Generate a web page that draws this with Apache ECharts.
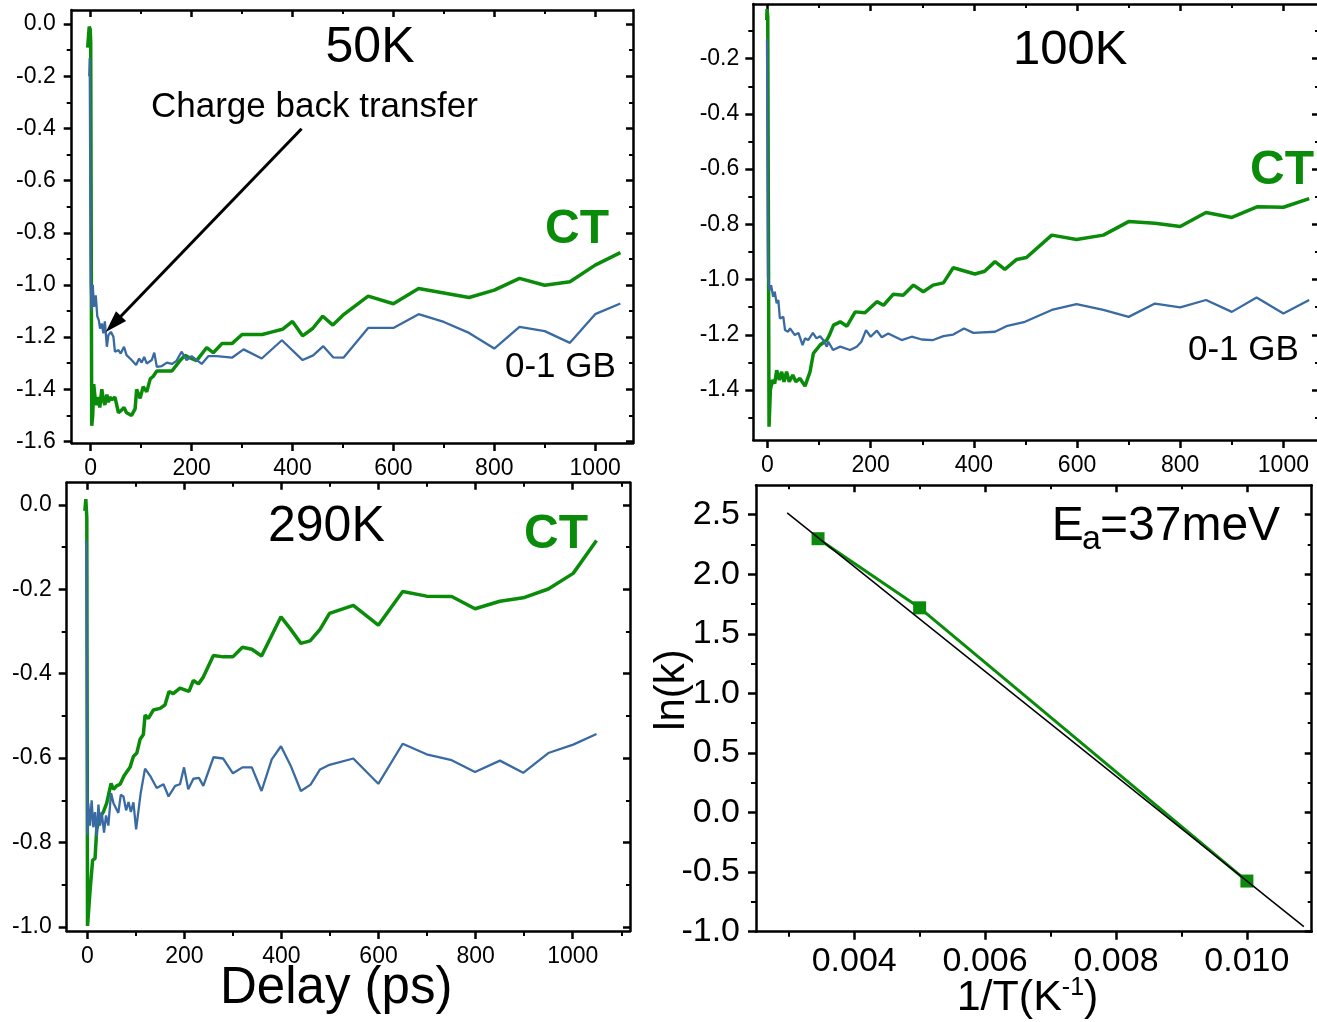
<!DOCTYPE html>
<html>
<head>
<meta charset="utf-8">
<script src="https://cdn.jsdelivr.net/npm/echarts@6/dist/echarts.min.js"></script>
<style>html,body{margin:0;padding:0;background:#fff;overflow:hidden}#c{width:1317px;height:1022px}</style>
</head>
<body>
<div id="c"></div>
<script>
// ---------------- data ----------------
const ct50K = [[-6,-0.09],[-3,-0.01],[-1,-0.02],[0,-0.07],[2,-1.54],[4,-1.50],[6,-1.38],[9,-1.44],[12,-1.46],[15,-1.43],[18,-1.47],[22,-1.40],[25,-1.44],[28,-1.46],[32,-1.42],[35,-1.45],[38,-1.43],[42,-1.44],[48,-1.43],[55,-1.49],[61,-1.48],[66,-1.47],[71,-1.49],[81,-1.50],[88,-1.475],[91,-1.40],[98,-1.435],[104,-1.39],[111,-1.41],[118,-1.36],[124,-1.35],[131,-1.33],[161,-1.33],[177,-1.29],[187,-1.27],[197,-1.28],[210,-1.29],[230,-1.24],[243,-1.26],[260,-1.225],[280,-1.225],[300,-1.19],[340,-1.19],[360,-1.18],[380,-1.17],[400,-1.14],[420,-1.195],[440,-1.167],[460,-1.12],[480,-1.154],[500,-1.116],[550,-1.043],[600,-1.072],[650,-1.014],[750,-1.048],[800,-1.02],[850,-0.975],[900,-1.001],[950,-0.988],[1000,-0.924],[1050,-0.876]];
const gb50K = [[-3,-0.2],[-2,-0.13],[0,-1.0],[2,-1.097],[4,-1.0],[6.6,-1.084],[10,-1.04],[13,-1.12],[16,-1.135],[18.5,-1.167],[22,-1.148],[25,-1.186],[28,-1.14],[32,-1.237],[35,-1.193],[40,-1.18],[45,-1.199],[48,-1.256],[55,-1.25],[59.5,-1.263],[66,-1.237],[71,-1.269],[81,-1.288],[90,-1.307],[96,-1.282],[101,-1.298],[106,-1.276],[111,-1.301],[121,-1.288],[126,-1.26],[131,-1.314],[141,-1.311],[151,-1.298],[161,-1.303],[170,-1.291],[180,-1.256],[190,-1.288],[200,-1.273],[220,-1.303],[233,-1.273],[250,-1.273],[280,-1.279],[303,-1.247],[339,-1.282],[379,-1.212],[420,-1.288],[441,-1.27],[461,-1.235],[481,-1.278],[501,-1.279],[550,-1.165],[600,-1.165],[650,-1.112],[700,-1.142],[750,-1.184],[800,-1.244],[850,-1.161],[900,-1.177],[950,-1.222],[1000,-1.112],[1050,-1.071]];
const ct100K = [[-1.5,-0.06],[-0.8,-0.02],[0.5,-0.05],[3,-1.533],[5.6,-1.40],[9.5,-1.364],[14,-1.376],[17.8,-1.328],[23,-1.364],[27.5,-1.334],[32,-1.37],[37,-1.334],[42,-1.37],[49,-1.346],[55,-1.37],[63,-1.358],[72.8,-1.386],[82.5,-1.334],[89,-1.267],[102,-1.237],[115,-1.219],[120,-1.201],[128,-1.165],[141,-1.153],[154,-1.169],[170,-1.117],[189,-1.12],[212,-1.08],[225,-1.093],[244,-1.053],[263,-1.057],[283,-1.02],[302,-1.044],[321,-1.02],[341,-1.012],[360,-0.957],[402,-0.98],[421,-0.97],[441,-0.935],[460,-0.963],[483,-0.927],[502,-0.92],[551,-0.839],[599,-0.855],[651,-0.839],[700,-0.79],[751,-0.796],[800,-0.808],[850,-0.757],[900,-0.775],[950,-0.736],[1000,-0.738],[1050,-0.707]];
const gb100K = [[-1,-0.13],[-0.8,-0.19],[1,-0.99],[4,-1.038],[7,-1.02],[11,-1.062],[14,-1.044],[17.8,-1.086],[21,-1.074],[24,-1.141],[27.5,-1.147],[30.7,-1.135],[34,-1.183],[40,-1.189],[43.7,-1.177],[53,-1.201],[60,-1.193],[68,-1.237],[72.8,-1.213],[79,-1.219],[88,-1.193],[95,-1.213],[102,-1.205],[108,-1.219],[115,-1.243],[118,-1.225],[127,-1.255],[141,-1.243],[160,-1.255],[173,-1.243],[182,-1.225],[191,-1.183],[200,-1.207],[212,-1.185],[221.5,-1.209],[234,-1.195],[260,-1.219],[279.5,-1.207],[299,-1.217],[321,-1.219],[341,-1.205],[360,-1.199],[381,-1.177],[399,-1.193],[441,-1.189],[463,-1.169],[499,-1.153],[551,-1.11],[599,-1.089],[651,-1.11],[700,-1.135],[751,-1.087],[800,-1.101],[850,-1.074],[900,-1.117],[948,-1.065],[1000,-1.123],[1050,-1.074]];
const ct290K = [[-5,-0.014],[-3,0.014],[-1,-0.03],[0.5,-0.998],[5.6,-0.916],[11,-0.842],[16,-0.838],[19.4,-0.769],[26.3,-0.74],[33,-0.728],[40,-0.707],[49,-0.66],[54,-0.674],[60.5,-0.666],[67.5,-0.662],[75.8,-0.642],[88,-0.622],[95,-0.596],[102,-0.588],[108.6,-0.556],[115.5,-0.544],[119,-0.498],[125.8,-0.506],[136,-0.486],[150,-0.482],[160,-0.474],[168.3,-0.442],[177,-0.447],[191,-0.434],[209.5,-0.442],[218.5,-0.416],[229,-0.424],[239,-0.408],[259.8,-0.357],[280,-0.36],[299.8,-0.36],[319.6,-0.337],[339,-0.342],[359,-0.358],[399,-0.265],[418,-0.293],[440,-0.328],[459,-0.322],[479.5,-0.295],[499,-0.257],[548,-0.238],[599.5,-0.285],[649.7,-0.205],[699,-0.216],[750.7,-0.217],[798.7,-0.246],[850,-0.228],[898,-0.22],[949.7,-0.199],[1001,-0.162],[1049,-0.084]];
const gb290K = [[-2.7,-0.084],[-1.4,-0.13],[0,-0.781],[2,-0.707],[5.6,-0.76],[9,-0.7],[12.4,-0.764],[16,-0.728],[19.4,-0.786],[23,-0.71],[26.3,-0.76],[29.7,-0.728],[34.5,-0.777],[38.6,-0.736],[43.4,-0.76],[49,-0.683],[54,-0.707],[64,-0.73],[69,-0.687],[74.5,-0.691],[80,-0.724],[85,-0.704],[89.8,-0.728],[95,-0.705],[100.6,-0.769],[110,-0.683],[119,-0.625],[129.5,-0.642],[143,-0.671],[157,-0.662],[167.4,-0.691],[181,-0.666],[191,-0.662],[199.3,-0.622],[208,-0.674],[218.5,-0.649],[230,-0.647],[239,-0.666],[260,-0.598],[280,-0.601],[300,-0.636],[319.6,-0.622],[339,-0.622],[359,-0.678],[380,-0.603],[399,-0.572],[419,-0.618],[440,-0.678],[460,-0.663],[479.5,-0.627],[499,-0.616],[548,-0.601],[599.5,-0.661],[649.7,-0.566],[699,-0.591],[750.7,-0.605],[798.7,-0.633],[850,-0.606],[898,-0.635],[949.7,-0.588],[1001,-0.568],[1049,-0.543]];
// Arrhenius panel
const invT = [0.003448, 0.005, 0.010];
const lnK = [2.298, 1.718, -0.575];
const fitX = [0.002976, 0.01087];
const fitY = [2.515, -0.958];
// annotation arrow (data coords of panel 50K)
const arrowTail = [418, -0.401];
const arrowHead = [45, -1.15];
// ticks
const delayMajor = [0, 200, 400, 600, 800, 1000];
const delayMinor = [100, 300, 500, 700, 900];
const delayMinor3 = [100, 300, 500, 700, 900, 1100];
const y50Major = [0, -0.2, -0.4, -0.6, -0.8, -1.0, -1.2, -1.4, -1.6];
const y50Minor = [-0.1, -0.3, -0.5, -0.7, -0.9, -1.1, -1.3, -1.5];
const y100Major = [-0.2, -0.4, -0.6, -0.8, -1.0, -1.2, -1.4];
const y100Minor = [-0.1, -0.3, -0.5, -0.7, -0.9, -1.1, -1.3, -1.5];
const y290Major = [0, -0.2, -0.4, -0.6, -0.8, -1.0];
const y290Minor = [-0.1, -0.3, -0.5, -0.7, -0.9];
const invTMajor = [0.004, 0.006, 0.008, 0.010];
const invTMinor = [0.003, 0.005, 0.007, 0.009];
const lnKMajor = [-1.0, -0.5, 0.0, 0.5, 1.0, 1.5, 2.0, 2.5];
const lnKMinor = [-0.75, -0.25, 0.25, 0.75, 1.25, 1.75, 2.25];

// ---------------- styling ----------------
const FONT = '"Liberation Sans", Arial, Helvetica, sans-serif';
const GREEN = '#0a8c0a';
const BLUE = '#3a6aa2';

function axisGroup(dim, g, min, max, majors, minors, fmt, fs, margin) {
  const pos = dim === 'x' ? ['bottom', 'top'] : ['left', 'right'];
  const line = {show: true, onZero: false, lineStyle: {color: '#000', width: 2.5}};
  const noLine = {show: false, onZero: false};
  const tk = (vals, len, inside, w) => ({show: true, inside: inside, length: len, customValues: vals, lineStyle: {color: '#000', width: w}});
  const base = {type: 'value', gridIndex: g, min: min, max: max, splitLine: {show: false}, silent: true};
  return [
    Object.assign({}, base, {position: pos[0], axisLine: line, axisTick: tk(majors, 8, false, 2.5),
      axisLabel: {show: true, customValues: majors, formatter: fmt, fontSize: fs, fontFamily: FONT, color: '#000', margin: margin}}),
    Object.assign({}, base, {position: pos[0], axisLine: noLine, axisTick: tk(minors, 5, false, 2), axisLabel: {show: false}}),
    Object.assign({}, base, {position: pos[1], axisLine: line, axisTick: tk(majors, 7, true, 2.5), axisLabel: {show: false}}),
    Object.assign({}, base, {position: pos[1], axisLine: noLine, axisTick: tk(minors, 4, true, 2), axisLabel: {show: false}})
  ];
}
const f0 = v => String(Math.round(v));
const f1 = v => v.toFixed(1);
const f3 = v => v.toFixed(3);

const xAxis = [].concat(
  axisGroup('x', 0, -37.7, 1075, delayMajor, delayMinor, f0, 23, 14.5),
  axisGroup('x', 1, -27.5, 1069, delayMajor, delayMinor, f0, 23, 14),
  axisGroup('x', 2, -42.4, 1118, delayMajor, delayMinor3, f0, 23, 14),
  axisGroup('x', 3, 0.0025, 0.01099, invTMajor, invTMinor, f3, 34, 13)
);
const yAxis = [].concat(
  axisGroup('y', 0, -1.606, 0.054, y50Major, y50Minor, f1, 23, 16),
  axisGroup('y', 1, -1.581, -0.002, y100Major, y100Minor, f1, 23, 14),
  axisGroup('y', 2, -1.01, 0.053, y290Major, y290Minor, f1, 23, 15),
  axisGroup('y', 3, -1.0, 2.747, lnKMajor, lnKMinor, f1, 34, 16)
);

function lineSeries(g, data, color, width, z) {
  return {type: 'line', xAxisIndex: 4 * g, yAxisIndex: 4 * g, data: data, symbol: 'none', showSymbol: false,
    lineStyle: {color: color, width: width}, z: z, clip: true};
}
const arrSeries = invT.map((x, i) => [x, lnK[i]]);
const fitSeries = fitX.map((x, i) => [x, fitY[i]]);

const series = [
  lineSeries(0, ct50K, GREEN, 3.5, 2),
  Object.assign(lineSeries(0, gb50K, BLUE, 2.3, 3), {
    markLine: {silent: true, animation: false, symbol: ['none', 'triangle'], symbolSize: [14, 22],
      lineStyle: {color: '#000', width: 3, type: 'solid'}, itemStyle: {color: '#000'}, label: {show: false},
      data: [[{coord: arrowTail}, {coord: arrowHead}]]}
  }),
  lineSeries(1, ct100K, GREEN, 3.5, 2),
  lineSeries(1, gb100K, BLUE, 2.3, 3),
  lineSeries(2, ct290K, GREEN, 3.5, 2),
  lineSeries(2, gb290K, BLUE, 2.3, 3),
  {type: 'line', xAxisIndex: 12, yAxisIndex: 12, data: arrSeries, symbol: 'rect', symbolSize: 13,
    itemStyle: {color: GREEN}, lineStyle: {color: GREEN, width: 3}, z: 2},
  {type: 'line', xAxisIndex: 12, yAxisIndex: 12, data: fitSeries, symbol: 'none', showSymbol: false,
    lineStyle: {color: '#000', width: 1.5}, z: 3}
];

function txt(t, x, y, fs, opts) {
  opts = opts || {};
  const font = (opts.bold ? 'bold ' : '') + fs + 'px ' + FONT;
  return {type: 'text', x: x, y: y, rotation: opts.rot || 0, silent: true, z: 10,
    style: {text: t, font: font, fill: opts.color || '#000', align: opts.align || 'left', textAlign: opts.align || 'left',
      verticalAlign: 'middle', textVerticalAlign: 'middle'}};
}
const graphic = [
  txt('50K', 370, 48.3, 50, {align: 'center'}),
  txt('Charge back transfer', 151, 107.5, 35),
  txt('CT', 545, 230, 48, {bold: true, color: GREEN}),
  txt('0-1 GB', 505, 367.5, 35),
  txt('100K', 1013, 50.5, 49),
  txt('CT', 1250, 170.5, 48, {bold: true, color: GREEN}),
  txt('0-1 GB', 1188, 350, 35),
  txt('290K', 268, 527.5, 50),
  txt('CT', 524, 534.5, 48, {bold: true, color: GREEN}),
  txt('Delay (ps)', 220, 989, 51),
  txt('ln(k)', 672.5, 690, 42, {align: 'center', rot: Math.PI / 2}),
  txt('1/T(K', 956.7, 998, 43),
  txt('-1', 1061.8, 988, 25),
  txt(')', 1084, 998, 43),
  txt('E', 1051.7, 526.5, 48),
  txt('a', 1082, 540, 34),
  txt('=37meV', 1100, 526.5, 48)
];

const chart = echarts.init(document.getElementById('c'), null, {renderer: 'canvas'});
chart.setOption({
  animation: false,
  backgroundColor: '#fff',
  grid: [
    {left: 71.7, top: 10, width: 561.3, height: 433, outerBoundsMode: 'none', containLabel: false},
    {left: 753.3, top: 4, width: 565.7, height: 436, outerBoundsMode: 'none', containLabel: false},
    {left: 66.7, top: 482.7, width: 563.3, height: 448.3, outerBoundsMode: 'none', containLabel: false},
    {left: 756, top: 485.2, width: 555.7, height: 446.5, outerBoundsMode: 'none', containLabel: false}
  ],
  xAxis: xAxis,
  yAxis: yAxis,
  series: series,
  graphic: graphic
});
</script>
</body>
</html>
